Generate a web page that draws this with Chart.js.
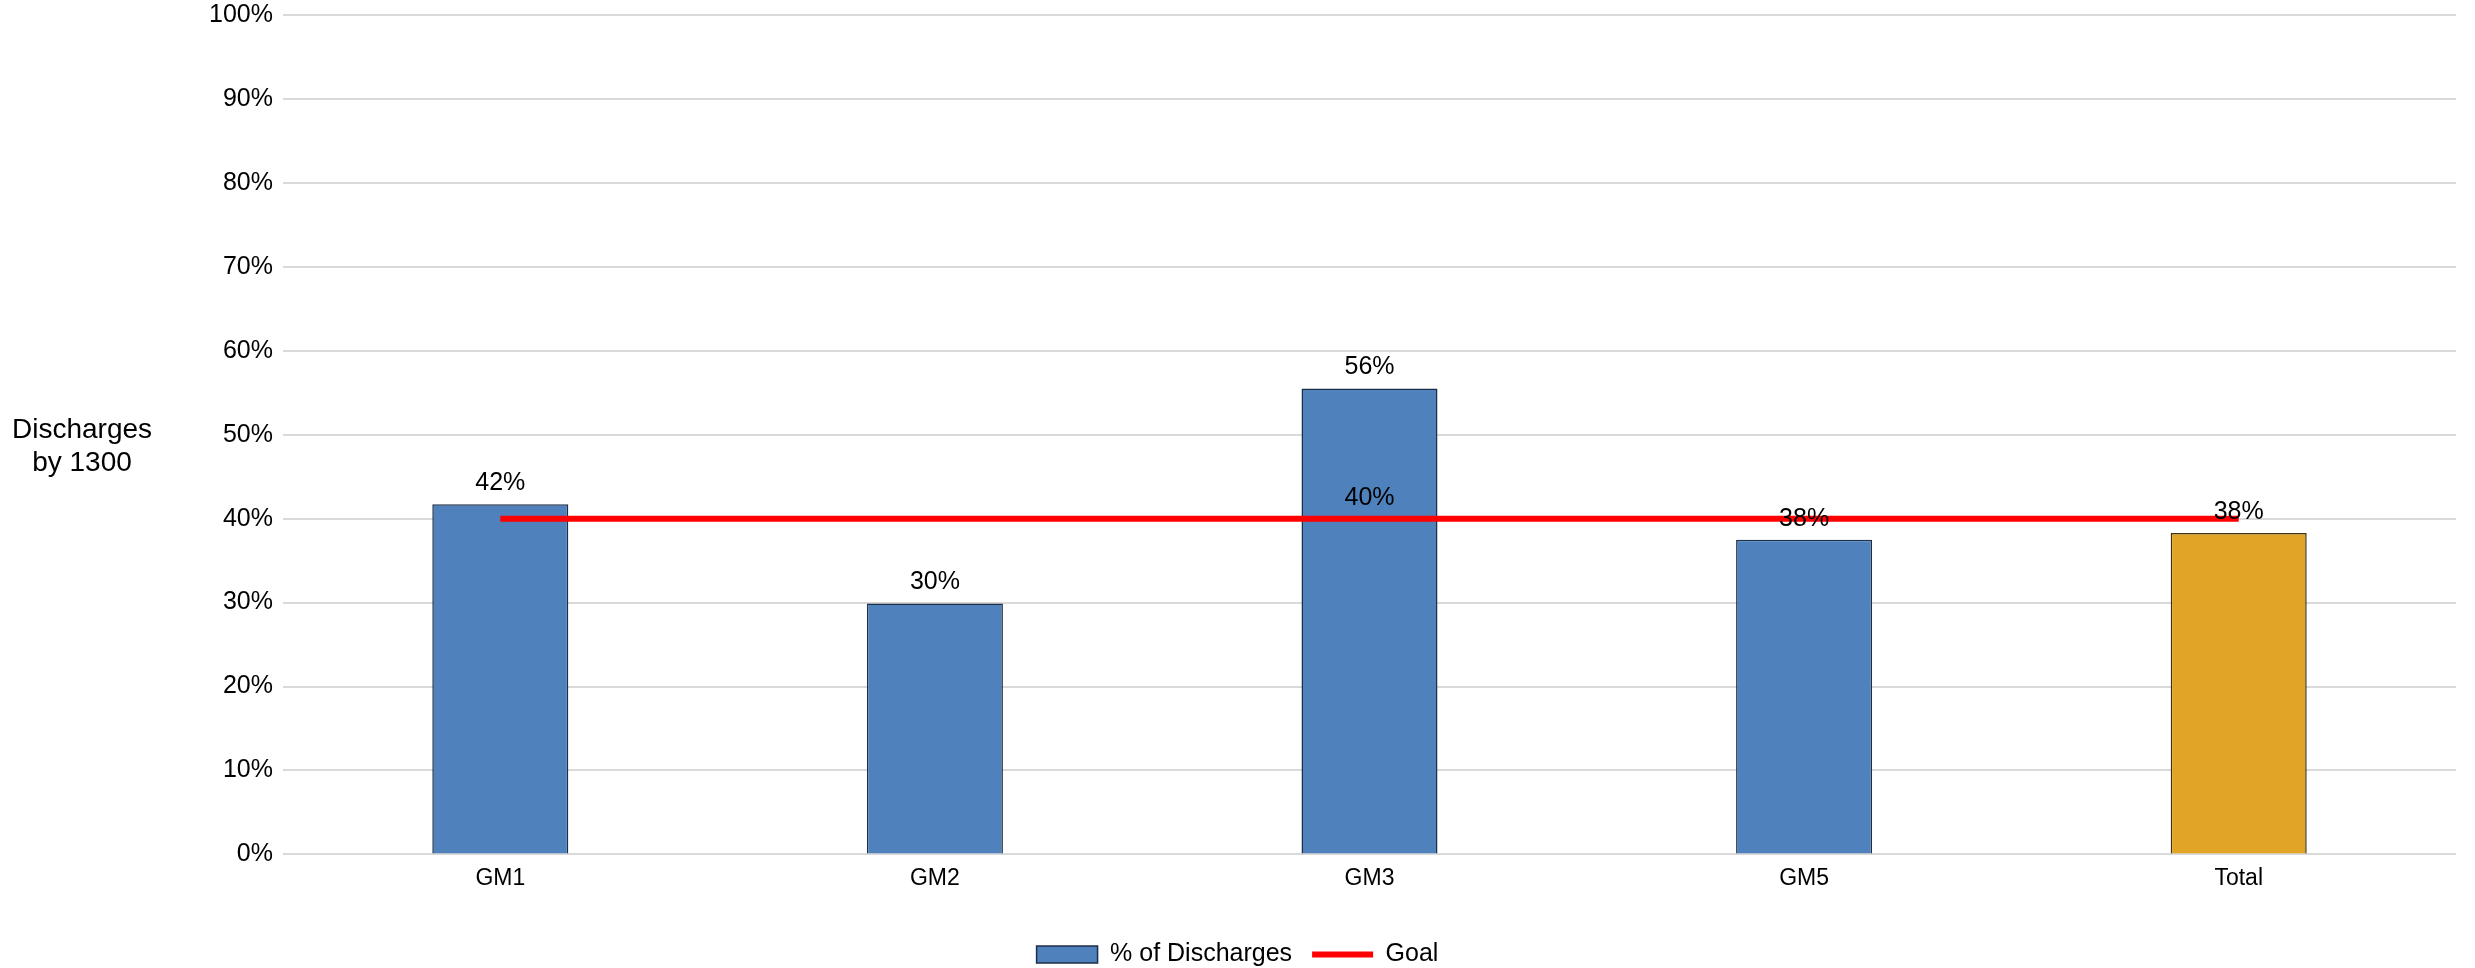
<!DOCTYPE html>
<html>
<head>
<meta charset="utf-8">
<title>Discharges by 1300</title>
<script src="https://cdn.jsdelivr.net/npm/chart.js@4/dist/chart.umd.min.js"></script>
<style>
    html, body { margin: 0; padding: 0; background: #fff; }
    #contenedor { width: 2475px; height: 968px; }
</style>
</head>
<body>
<div id="contenedor"><canvas id="grafico"></canvas></div>
<script>
// Datos
const categorias = ['GM1', 'GM2', 'GM3', 'GM5', 'Total']
const porcentajes = [41.7, 29.9, 55.5, 37.5, 38.3]
const meta = [40, 40, 40, 40, 40]
const ticksY = [0, 10, 20, 30, 40, 50, 60, 70, 80, 90, 100]
const tituloEjeY = ['Discharges', 'by 1300']

const fuente = 'Liberation Sans, Arial, sans-serif'
const colorBarras = categorias.map(c => c === 'Total' ? '#e2a427' : '#4f81bd')
const bordeBarras = categorias.map(c => c === 'Total' ? '#3d3214' : '#1d2e48')

// Etiquetas de valor sobre cada barra, y la meta solo en el centro
const etiquetas = {
    id: 'etiquetas',
    afterDatasetsDraw(chart) {
        const ctx = chart.ctx
        ctx.save()
        ctx.font = '25px ' + fuente
        ctx.fillStyle = '#000'
        ctx.textAlign = 'center'
        ctx.textBaseline = 'middle'
        chart.getDatasetMeta(0).data.forEach((el, i) => {
            ctx.fillText(Math.round(porcentajes[i]) + '%', el.x, el.y - 21)
        })
        const linea = chart.getDatasetMeta(1).data
        const medio = Math.floor(linea.length / 2)
        ctx.fillText(Math.round(meta[medio]) + '%', linea[medio].x, linea[medio].y - 21)
        ctx.restore()
    }
}

// Titulo del eje Y en horizontal
const tituloY = {
    id: 'tituloY',
    afterDraw(chart) {
        const ctx = chart.ctx
        const area = chart.chartArea
        const centro = (area.top + area.bottom) / 2 + 12
        ctx.save()
        ctx.font = '28px ' + fuente
        ctx.fillStyle = '#000'
        ctx.textAlign = 'center'
        ctx.textBaseline = 'middle'
        tituloEjeY.forEach((t, i) => {
            ctx.fillText(t, 82, centro + (i - 0.5) * 33)
        })
        ctx.restore()
    }
}

const data = {
    labels: categorias,
    datasets: [
        {
            type: 'bar',
            label: '% of Discharges',
            data: porcentajes,
            backgroundColor: colorBarras,
            borderColor: bordeBarras,
            borderWidth: 1.5,
            categoryPercentage: 1,
            barPercentage: 0.313,
            pointStyle: 'rect',
            order: 1
        },
        {
            type: 'line',
            label: 'Goal',
            data: meta,
            borderColor: '#ff0000',
            backgroundColor: '#ff0000',
            borderWidth: 6,
            pointRadius: 0,
            pointStyle: 'line',
            fill: false,
            order: 0
        }
    ]
}

const config = {
    data: data,
    plugins: [etiquetas, tituloY],
    options: {
        responsive: true,
        maintainAspectRatio: false,
        animation: false,
        layout: {
            padding: { left: 19, right: 19, top: 15, bottom: -9 }
        },
        plugins: {
            tooltip: { enabled: false },
            legend: {
                position: 'bottom',
                labels: {
                    usePointStyle: true,
                    pointStyleWidth: 61,
                    boxHeight: 17,
                    padding: 20,
                    color: '#000',
                    font: { family: fuente, size: 25 },
                    sort: (a, b) => a.datasetIndex - b.datasetIndex
                }
            }
        },
        scales: {
            x: {
                afterFit: scale => { scale.height += 28 },
                grid: { display: false },
                border: { display: false },
                ticks: {
                    color: '#000',
                    padding: 2,
                    font: { family: fuente, size: 23 }
                }
            },
            y: {
                min: 0,
                max: 100,
                afterFit: scale => {
                    scale.width = 264
                    scale.paddingTop = 0
                    scale.paddingBottom = 0
                },
                afterBuildTicks: scale => { scale.ticks = ticksY.map(v => ({ value: v })) },
                grid: { color: '#d9d9d9', lineWidth: 2, drawTicks: false },
                border: { display: false },
                ticks: {
                    color: '#000',
                    padding: 10,
                    font: { family: fuente, size: 25 },
                    callback: v => v + '%'
                }
            }
        }
    }
}

new Chart(document.getElementById('grafico'), config)
</script>
</body>
</html>
